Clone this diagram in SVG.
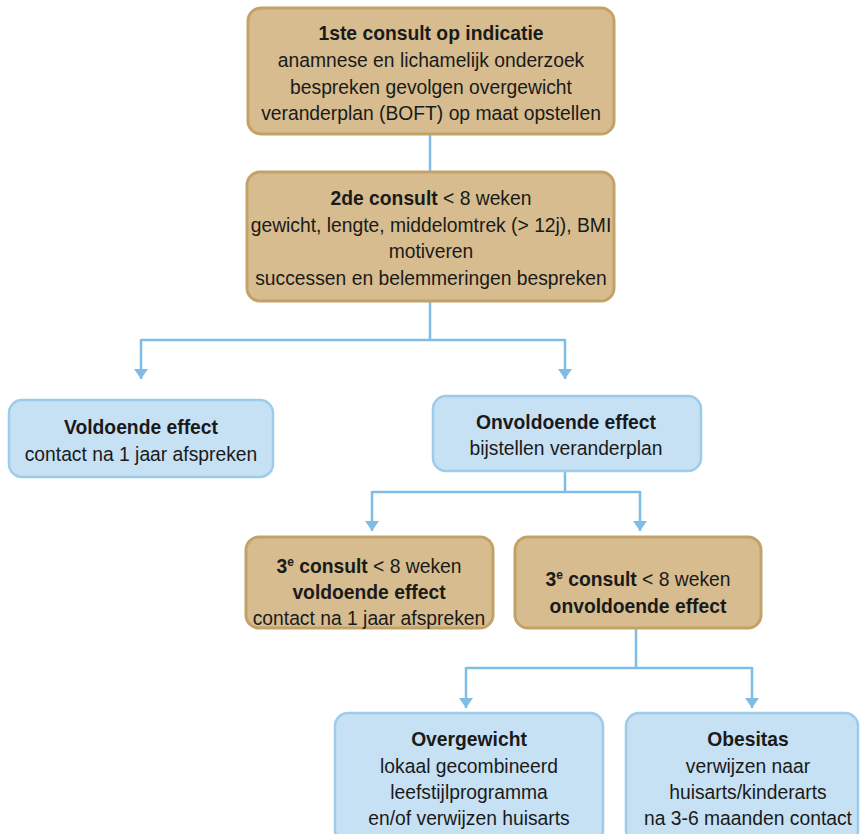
<svg xmlns="http://www.w3.org/2000/svg" width="861" height="834" viewBox="0 0 861 834">
<defs>
<marker id="arr" viewBox="0 0 10 14" refX="10" refY="7" markerWidth="10" markerHeight="14" markerUnits="userSpaceOnUse" orient="auto">
<path d="M0,0 L10,7 L0,14 Z" fill="#7fbde6"/>
</marker>
<style>
.tan{fill:#d6bc8e;stroke:#c3a268;stroke-width:3}
.blue{fill:#c6e0f4;stroke:#9dcbea;stroke-width:2.5}
text{font-family:"Liberation Sans",Arial,sans-serif;font-size:19.3px;fill:#1a1a1a;text-anchor:middle}
.b{font-weight:bold}
.sup{font-size:12px}
.c{fill:none;stroke:#7fbde6;stroke-width:2.5}
</style>
</defs>
<rect width="861" height="834" fill="#ffffff"/>
<g id="connectors">
<path class="c" d="M430,135 V172"/>
<path class="c" d="M430,301 V340"/>
<path class="c" d="M141,340 H565"/>
<path class="c" d="M141,339 V379" marker-end="url(#arr)"/>
<path class="c" d="M565,339 V379" marker-end="url(#arr)"/>
<path class="c" d="M565,471 V492"/>
<path class="c" d="M372,492 H640"/>
<path class="c" d="M372,491 V531" marker-end="url(#arr)"/>
<path class="c" d="M640,491 V531" marker-end="url(#arr)"/>
<path class="c" d="M636,629 V668"/>
<path class="c" d="M466,668 H752"/>
<path class="c" d="M466,667 V708" marker-end="url(#arr)"/>
<path class="c" d="M752,667 V708" marker-end="url(#arr)"/>
</g>
<g id="n1">
<rect class="tan" x="248" y="8" width="366" height="126" rx="13"/>
<text x="431" y="40" class="b">1ste consult op indicatie</text>
<text x="431" y="67">anamnese en lichamelijk onderzoek</text>
<text x="431" y="94">bespreken gevolgen overgewicht</text>
<text x="431" y="120">veranderplan (BOFT) op maat opstellen</text>
</g>
<g id="n2">
<rect class="tan" x="247" y="172" width="367" height="129" rx="13"/>
<text x="431" y="205"><tspan class="b">2de consult</tspan> &lt; 8 weken</text>
<text x="431" y="232">gewicht, lengte, middelomtrek (&gt; 12j), BMI</text>
<text x="431" y="258">motiveren</text>
<text x="431" y="285">successen en belemmeringen bespreken</text>
</g>
<g id="n3">
<rect class="blue" x="9" y="400" width="264" height="77" rx="13"/>
<text x="141" y="434" class="b">Voldoende effect</text>
<text x="141" y="461">contact na 1 jaar afspreken</text>
</g>
<g id="n4">
<rect class="blue" x="433" y="396" width="268" height="75" rx="13"/>
<text x="566" y="429" class="b">Onvoldoende effect</text>
<text x="566" y="455">bijstellen veranderplan</text>
</g>
<g id="n5">
<rect class="tan" x="246" y="537" width="247" height="91" rx="13"/>
<text x="369" y="573"><tspan class="b">3</tspan><tspan class="b sup" dy="-7">e</tspan><tspan class="b" dy="7"> consult</tspan> &lt; 8 weken</text>
<text x="369" y="599" class="b">voldoende effect</text>
<text x="369" y="625">contact na 1 jaar afspreken</text>
</g>
<g id="n6">
<rect class="tan" x="515" y="537" width="246" height="91" rx="13"/>
<text x="638" y="586"><tspan class="b">3</tspan><tspan class="b sup" dy="-7">e</tspan><tspan class="b" dy="7"> consult</tspan> &lt; 8 weken</text>
<text x="638" y="613" class="b">onvoldoende effect</text>
</g>
<g id="n7">
<rect class="blue" x="335" y="713" width="268" height="130" rx="13"/>
<text x="469" y="746" class="b">Overgewicht</text>
<text x="469" y="773">lokaal gecombineerd</text>
<text x="469" y="799">leefstijlprogramma</text>
<text x="469" y="825">en/of verwijzen huisarts</text>
</g>
<g id="n8">
<rect class="blue" x="626" y="713" width="232" height="130" rx="13"/>
<text x="748" y="746" class="b">Obesitas</text>
<text x="748" y="773">verwijzen naar</text>
<text x="748" y="799">huisarts/kinderarts</text>
<text x="748" y="825">na 3-6 maanden contact</text>
</g>
</svg>
